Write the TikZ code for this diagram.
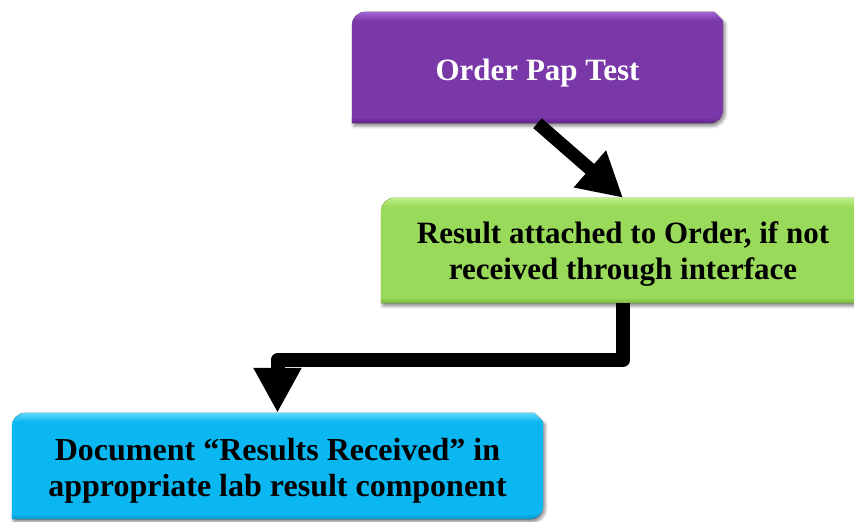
\documentclass[tikz,border=0pt]{standalone}
\usepackage{fontspec}
\setmainfont{Liberation Serif}
\usetikzlibrary{arrows.meta,backgrounds,shadows.blur,calc}
\definecolor{cpurple}{HTML}{7A37A8}
\definecolor{cpurplehi}{HTML}{A86AD8}
\definecolor{cpurplelo}{HTML}{5A2282}
\definecolor{cgreen}{HTML}{9ADA5A}
\definecolor{cgreenhi}{HTML}{C2F28E}
\definecolor{cgreenlo}{HTML}{74AE3C}
\definecolor{cblue}{HTML}{0BB7F0}
\definecolor{cbluehi}{HTML}{6ADCFF}
\definecolor{cbluelo}{HTML}{0890C4}
\tikzset{
  bpath/.style={insert path={(#1.south west) -- ([yshift=-14pt]#1.north west)
     .. controls ([yshift=-6pt]#1.north west) and ([xshift=6pt]#1.north west) .. ([xshift=14pt]#1.north west)
     -- ([xshift=-9pt]#1.north east) -- ([yshift=-9pt]#1.north east)
     -- ([yshift=14pt]#1.south east)
     .. controls ([yshift=6pt]#1.south east) and ([xshift=-6pt]#1.south east) .. ([xshift=-14pt]#1.south east)
     -- cycle}},
  boxarea/.style={inner sep=0pt},
  boxtext/.style={inner sep=0pt, align=center, font=\bfseries\fontsize{31}{36}\selectfont},
  flowarrow/.style={line width=#1, line join=round, draw=black},
}
\newcommand\myboxbg[4]{%
  \fill[blur shadow={shadow xshift=2pt,shadow yshift=-3pt,shadow blur radius=3pt,shadow opacity=45}, fill=#2, bpath=#1];
  \begin{scope}
    \clip[bpath=#1];
    \fill[top color=#3, bottom color=#2] ([yshift=1pt]#1.north west) rectangle ([yshift=-9pt]#1.north east);
    \fill[top color=#2, bottom color=#4] ([yshift=6pt]#1.south west) rectangle ([yshift=-1pt]#1.south east);
  \end{scope}}
\begin{document}
\begin{tikzpicture}[x=1pt,y=-1pt]
\useasboundingbox (0,0) rectangle (854,522);
\node[boxarea, minimum width=371pt, minimum height=111pt] (order) at (537.5,67.5) {};
\node[boxarea, minimum width=484pt, minimum height=105pt] (result) at (623,250.5) {};
\node[boxarea, minimum width=531pt, minimum height=106pt] (doc) at (277.5,466) {};
\begin{scope}[on background layer]
  \myboxbg{order}{cpurple}{cpurplehi}{cpurplelo}
  \myboxbg{result}{cgreen}{cgreenhi}{cgreenlo}
  \myboxbg{doc}{cblue}{cbluehi}{cbluelo}
\end{scope}
\node[boxtext, text=white] (ordertxt) at ([yshift=-6pt]order.center) {Order Pap Test};
\node[boxtext] (resulttxt) at ([yshift=-4pt]result.center) {Result attached to Order, if not\\received through interface};
\node[boxtext, font=\bfseries\fontsize{32}{36}\selectfont] (doctxt) at ([yshift=-5pt]doc.center) {Document “Results Received” in\\appropriate lab result component};
\coordinate (bend) at (0,360);
\draw[flowarrow=13pt, -{Triangle[length=44pt,width=46pt]}] (order.south) -- (result.north);
\draw[flowarrow=14pt, -{Triangle[length=45pt,width=45pt]}] (result.south) -- (result.south |- bend) -- (doc.north |- bend) -- (doc.north);
\end{tikzpicture}
\end{document}
